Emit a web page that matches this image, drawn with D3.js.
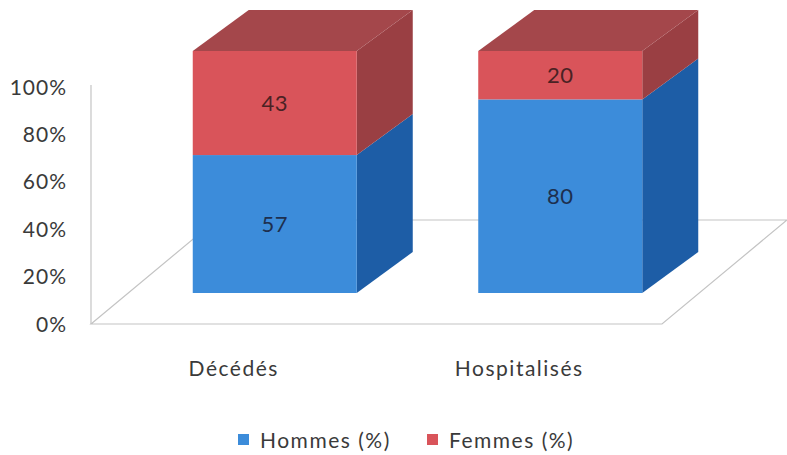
<!DOCTYPE html>
<html><head><meta charset="utf-8">
<script src="https://cdn.jsdelivr.net/npm/d3@7"></script>
<style>html,body{margin:0;padding:0;background:#fff;}svg{display:block;}</style>
</head><body><svg id="c" width="787" height="455"></svg>
<script>
const categories = ["Décédés", "Hospitalisés"];
const hommes = [57, 80];
const femmes = [43, 20];
const seriesNames = ["Hommes (%)", "Femmes (%)"];
const yTicks = [0, 20, 40, 60, 80, 100];

const svg = d3.select("#c");
const font = "Lato, 'Open Sans', sans-serif";

// floor / axis geometry
const floorL = 91, floorR = 662, floorY = 324;
const depth = {dx: 125, dy: -104};
const barDepth = {dx: 56, dy: -41};
const barOffset = {dx: 41, dy: -31};

const xFloor = d3.scaleBand().domain(categories).range([floorL, floorR]);
const yAxis = d3.scaleLinear().domain([0, 100]).range([floorY, 87]);
const yBar = d3.scaleLinear().domain([0, 100]).range([293, 51]);
const barW = 164;

const grid = "#c4c4c4";
// floor
svg.append("path")
  .attr("d", `M${floorL},${floorY} L${floorL+depth.dx},${floorY+depth.dy} L${floorR+depth.dx},${floorY+depth.dy} L${floorR},${floorY} Z`)
  .attr("fill", "none").attr("stroke", grid).attr("stroke-width", 1.2);
// vertical axis line
svg.append("line").attr("x1", floorL).attr("x2", floorL)
  .attr("y1", yAxis(100) - 2).attr("y2", floorY)
  .attr("stroke", grid).attr("stroke-width", 1.2);

// y tick labels
svg.append("g").selectAll("text").data(yTicks).join("text")
  .attr("x", 67).attr("y", d => yAxis(d)).attr("dy", "0.36em")
  .attr("text-anchor", "end").attr("font-family", font).attr("font-size", 21)
  .attr("letter-spacing", 1).attr("fill", "#3a3a3a").text(d => d + "%");

// category labels
svg.append("g").selectAll("text").data(categories).join("text")
  .attr("x", d => xFloor(d) + xFloor.bandwidth()/2).attr("y", 368).attr("dy", "0.36em")
  .attr("text-anchor", "middle").attr("font-family", font).attr("font-size", 21)
  .attr("letter-spacing", 1.5).attr("fill", "#3a3a3a").text(d => d);

const colors = {
  front: ["#3c8cda", "#d9545a"],
  side: ["#1d5da6", "#9a3f43"],
  top: ["#2a6cb8", "#a4474b"]
};

const stack = d3.stack().keys([0, 1]).value((d, k) => d[k]);
const rows = categories.map((c, i) => [hommes[i], femmes[i]]);
const stacked = stack(rows);

categories.forEach((cat, i) => {
  const cx = xFloor(cat) + xFloor.bandwidth()/2 + barOffset.dx;
  const x0 = cx - barW/2, x1 = cx + barW/2;
  const g = svg.append("g");
  stacked.forEach((layer, k) => {
    const a = layer[i][0], b = layer[i][1];
    const ya = yBar(a), yb = yBar(b);
    g.append("path")
      .attr("d", `M${x1},${ya} L${x1+barDepth.dx},${ya+barDepth.dy} L${x1+barDepth.dx},${yb+barDepth.dy} L${x1},${yb} Z`)
      .attr("fill", colors.side[k]);
    g.append("rect").attr("x", x0).attr("y", yb).attr("width", barW).attr("height", ya - yb)
      .attr("fill", colors.front[k]);
    if (k === stacked.length - 1) {
      g.append("path")
        .attr("d", `M${x0},${yb} L${x0+barDepth.dx},${yb+barDepth.dy} L${x1+barDepth.dx},${yb+barDepth.dy} L${x1},${yb} Z`)
        .attr("fill", colors.top[k]);
    }
    g.append("text").attr("x", cx).attr("y", (ya + yb)/2).attr("dy", "0.36em")
      .attr("text-anchor", "middle").attr("font-family", font).attr("font-size", 22)
      .attr("letter-spacing", 0.5)
      .attr("fill", k === 0 ? "#1e2f4e" : "#4a2224").text(layer[i].data[k]);
  });
});

// legend
const legendItems = [{name: seriesNames[0], color: "#3c8cda", x: 238}, {name: seriesNames[1], color: "#d9545a", x: 427}];
const lg = svg.append("g").selectAll("g").data(legendItems).join("g")
  .attr("transform", d => `translate(${d.x},440)`);
lg.append("rect").attr("x", 0).attr("y", -6).attr("width", 11).attr("height", 11).attr("fill", d => d.color);
lg.append("text").attr("x", 22).attr("y", 0).attr("dy", "0.36em")
  .attr("font-family", font).attr("font-size", 21).attr("letter-spacing", 1.5)
  .attr("fill", "#3a3a3a").text(d => d.name);
</script>
</body></html>
